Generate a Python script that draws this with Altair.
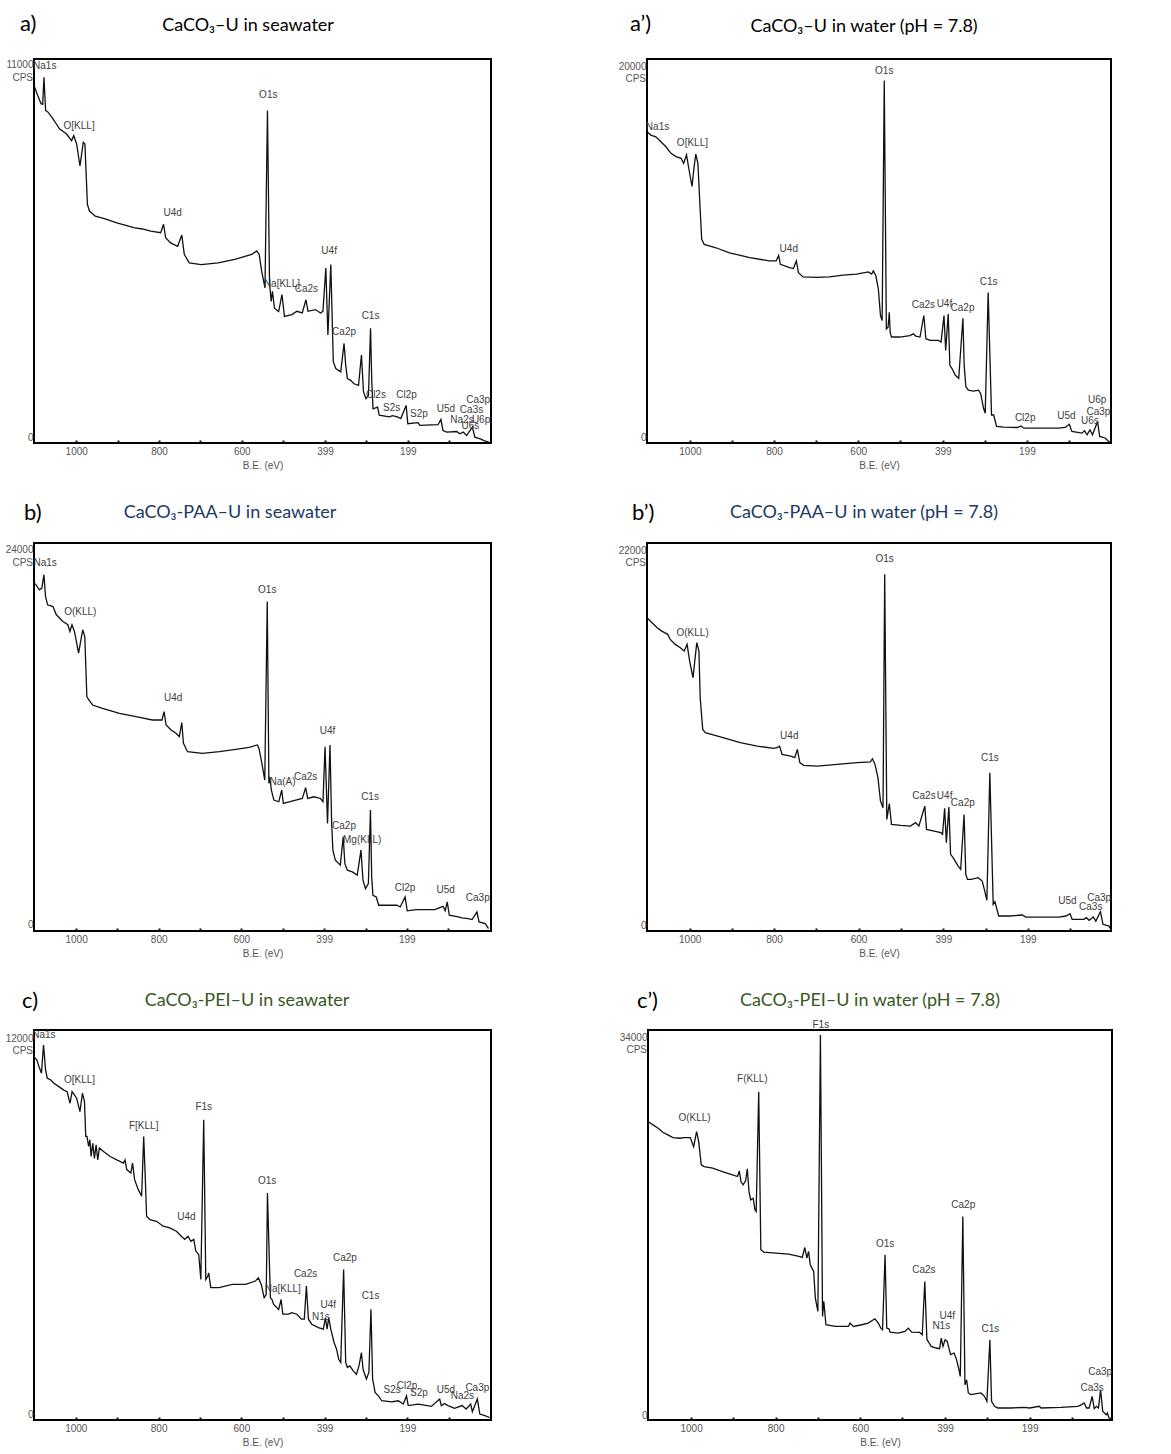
import altair as alt
import pandas as pd

# ---------------- data (binding energy eV, counts per second) ----------------
TICK_VALUES = [1000, 900, 800, 700, 600, 500, 399, 299, 199, 99]
TICK_LABELS = [1000, 800, 600, 399, 199]

spectrum_a = [(1102,10390),(1093,10090),(1085,9850),(1081,9830),(1078,10630),(1074,9650),(1068,9600),(1056,9400),(1048,9250),(1040,9100),(1024,8960),(1011,8760),(1006,8910),(999,8660),(991,8010),(983,8710),(979,8660),(973,6880),(968,6680),(954,6530),(930,6450),(902,6330),(880,6260),(861,6190),(840,6150),(820,6090),(796,6040),(789,6290),(784,5890),(772,5740),(755,5640),(745,5970),(739,5400),(727,5150),(698,5100),(657,5150),(617,5250),(576,5400),(564,5500),(558,5400),(552,4900),(544,4410),(538,9650),(533,4550),(529,4010),(526,4310),(521,3810),(511,3710),(503,4210),(497,3570),(479,3620),(467,3720),(454,3670),(445,4060),(440,3720),(422,3770),(410,3670),(404,3720),(397,5000),(392,3020),(385,5100),(381,3200),(379,2230),(373,2030),(361,1930),(353,2770),(349,2130),(345,1730),(337,1680),(329,1580),(318,1530),(311,2430),(306,1340),(300,1140),(294,1240),(289,3220),(286,1640),(283,840),(272,890),(268,650),(244,600),(236,640),(224,600),(216,550),(203,940),(199,400),(174,430),(170,350),(126,370),(119,525),(114,200),(105,150),(81,170),(73,100),(65,150),(57,50),(43,300),(37,0),(24,-50),(15,-100),(2,-150)]
labels_a = [("Na1s",1076,10960),("O[KLL]",993,9190),("U4d",767,6610),("O1s",536,10120),("U4f",389,5490),("Na[KLL]",503,4520),("Ca2s",444,4380),("C1s",289,3580),("Ca2p",353,3120),("Cl2s",276,1240),("Cl2p",202,1240),("S2s",238,860),("S2p",172,680),("U5d",107,820),("Ca3p",29,1110),("Ca3s",45,790),("Na2s",68,500),("U6p",22,500),("U6s",48,320)]

spectrum_a2 = [(1102,16470),(1093,16290),(1081,16200),(1069,15930),(1057,15660),(1045,15310),(1033,15130),(1021,15040),(1015,14770),(1008,15220),(1002,14410),(995,13520),(990,14590),(986,15270),(981,14770),(976,12450),(972,10670),(966,10400),(938,10220),(906,9950),(858,9690),(811,9510),(795,9510),(789,9810),(785,9330),(763,9150),(754,9100),(747,9510),(742,8880),(731,8650),(699,8620),(668,8650),(636,8740),(604,8800),(576,8920),(568,8800),(564,8970),(558,8710),(552,7990),(547,6570),(543,6300),(538,19230),(533,5850),(529,5940),(526,6740),(524,5670),(521,5410),(501,5410),(477,5490),(469,5580),(463,5460),(453,5410),(444,6570),(439,5320),(429,5230),(409,5230),(403,5140),(396,6570),(392,4690),(386,6650),(382,3890),(377,3710),(369,3350),(361,3180),(351,6420),(348,3890),(344,2730),(338,2550),(326,2500),(314,2550),(309,2370),(302,1570),(298,1300),(291,7810),(283,1210),(278,1210),(271,590),(254,550),(222,535),(213,620),(206,500),(198,500),(124,500),(108,540),(98,710),(92,320),(68,230),(62,360),(56,140),(49,410),(43,140),(31,860),(26,55),(13,-30),(5,-210),(-1,-300)]
labels_a2 = [("Na1s",1077,16730),("O[KLL]",994,15840),("U4d",765,10130),("O1s",538,19730),("C1s",290,8350),("Ca2s",445,7140),("U4f",395,7190),("Ca2p",352,6960),("Cl2p",203,1030),("U5d",105,1180),("U6s",49,890),("Ca3p",29,1390),("U6p",32,2020)]

spectrum_b = [(1102,21860),(1097,21750),(1089,21430),(1083,21540),(1078,22400),(1074,21000),(1069,20470),(1056,20360),(1048,19830),(1040,19620),(1032,19400),(1020,19190),(1015,18760),(1010,19190),(1004,18760),(994,17370),(984,18870),(979,18440),(974,14590),(969,14370),(960,14050),(936,13840),(895,13520),(855,13300),(815,13090),(792,13090),(787,13630),(782,12770),(770,12450),(758,12240),(750,12020),(744,12920),(740,11590),(730,11060),(694,10950),(653,11060),(613,11210),(581,11340),(561,11490),(557,11270),(550,10310),(543,9240),(537,20680),(533,9030),(531,9450),(527,8600),(521,7960),(509,7850),(502,8600),(498,7740),(484,7850),(468,7960),(452,8060),(444,8750),(439,8060),(424,8170),(408,8060),(402,7850),(397,11380),(391,6460),(385,11490),(381,6460),(378,4750),(372,4110),(360,3790),(353,5600),(349,3880),(343,3470),(331,3360),(319,3150),(310,4750),(305,2810),(299,2290),(292,2610),(287,7320),(284,3040),(281,1860),(273,1750),(267,1220),(243,1220),(223,1220),(215,1110),(203,1750),(198,860),(175,940),(131,940),(111,1150),(106,860),(101,1430),(96,580),(74,470),(66,410),(50,360),(41,300),(29,790),(24,150),(9,40),(1,-280)]
labels_b = [("Na1s",1075,23140),("O(KLL)",990,20040),("U4d",765,14480),("O1s",537,21430),("U4f",391,12410),("Na(A)",500,9130),("Ca2s",444,9410),("C1s",288,8150),("Ca2p",351,6310),("Mg(KLL)",307,5390),("Cl2p",203,2330),("U5d",105,2180),("Ca3p",27,1710)]

spectrum_b2 = [(1101,18050),(1089,17760),(1077,17470),(1066,17270),(1052,17080),(1046,16780),(1034,16490),(1022,16290),(1013,16100),(1006,16490),(1000,15510),(992,14530),(987,15710),(983,16590),(978,16100),(975,13360),(969,11500),(963,11310),(919,11010),(880,10720),(840,10520),(801,10390),(791,10440),(787,10520),(781,10030),(761,9930),(751,9840),(745,10330),(739,9550),(730,9390),(698,9350),(651,9450),(603,9550),(572,9600),(567,9780),(561,9450),(554,8670),(548,7300),(542,6900),(538,20600),(533,6220),(527,7140),(522,5930),(500,5870),(477,5830),(465,6030),(457,5830),(443,7000),(439,5630),(421,5530),(405,5440),(401,5340),(396,6870),(392,4850),(386,6940),(382,4170),(376,3970),(364,3480),(358,3290),(350,6510),(346,3010),(342,2700),(333,2700),(317,2800),(307,2600),(301,2010),(296,1470),(289,8960),(281,1230),(277,1390),(268,550),(243,550),(212,610),(204,490),(125,490),(109,550),(99,680),(94,350),(66,350),(60,450),(54,290),(44,490),(38,250),(27,800),(21,60),(7,-40),(2,-230)]
labels_b2 = [("O(KLL)",993,17170),("U4d",764,11110),("O1s",538,21480),("C1s",289,9840),("Ca2s",445,7590),("U4f",396,7590),("Ca2p",353,7200),("U5d",105,1430),("Ca3p",30,1580),("Ca3s",50,1080)]

spectrum_c = [(1101,11420),(1094,11310),(1089,11100),(1083,10890),(1078,11790),(1073,10990),(1069,10730),(1061,10680),(1053,10570),(1041,10460),(1029,10350),(1021,10300),(1014,9930),(1009,10300),(1003,10190),(998,10090),(990,9660),(984,10250),(979,9980),(976,8870),(973,8870),(969,8550),(966,8760),(963,8230),(959,8650),(955,8170),(951,8600),(947,8120),(943,8500),(933,8390),(917,8230),(901,8120),(885,8020),(881,8120),(877,7810),(867,7700),(863,8020),(858,7490),(849,7170),(841,6960),(836,8870),(832,7490),(829,6320),(821,6210),(805,6160),(789,6000),(773,5950),(757,5840),(745,5680),(737,5580),(729,5680),(722,5520),(715,5580),(710,5200),(703,5100),(698,4300),(691,9400),(686,4300),(681,4410),(679,4510),(674,4040),(654,4040),(622,4140),(590,4140),(566,4250),(559,4350),(552,4140),(545,3720),(540,3820),(537,7060),(530,3720),(526,3660),(522,3500),(510,3340),(504,3660),(500,3190),(486,3190),(478,3240),(466,3190),(455,3030),(448,3030),(443,4090),(438,3030),(430,2870),(414,2760),(402,2710),(397,3080),(393,2710),(389,3080),(384,2710),(376,2280),(370,2070),(365,1750),(360,1650),(353,4620),(348,1650),(344,1490),(338,1540),(330,1380),(322,1270),(316,1540),(310,1960),(306,1430),(298,1120),(292,1330),(287,3350),(283,1120),(277,690),(269,580),(261,425),(237,390),(221,425),(209,320),(201,580),(197,270),(173,320),(141,245),(121,480),(117,270),(109,340),(101,270),(85,180),(67,270),(57,160),(46,320),(42,75),(30,480),(24,0),(12,-50),(0,-110)]
labels_c = [("Na1s",1077,12110),("O[KLL]",991,10670),("F[KLL]",836,9190),("F1s",691,9820),("U4d",733,6300),("O1s",538,7430),("Ca2s",445,4460),("Na[KLL]",500,3980),("Ca2p",350,4990),("U4f",390,3470),("N1s",408,3110),("C1s",288,3770),("S2s",236,780),("Cl2p",200,900),("S2p",171,660),("U5d",106,780),("Na2s",66,580),("Ca3p",30,820)]

spectrum_c2 = [(1102,26430),(1090,26130),(1078,25830),(1067,25470),(1055,25230),(1043,24990),(1027,24930),(1016,24990),(1008,24990),(1002,24990),(994,24180),(987,25530),(982,24630),(976,22540),(969,22390),(949,22240),(926,21940),(902,21640),(890,21490),(886,22000),(882,21040),(877,20740),(871,21100),(867,22180),(863,20140),(859,19390),(853,19540),(849,18500),(846,18350),(840,29120),(835,14910),(828,14700),(800,14610),(769,14520),(745,14310),(737,14220),(731,15110),(726,14160),(722,14760),(718,13560),(714,13260),(710,12960),(706,10570),(700,9370),(694,34210),(689,8920),(686,10270),(681,8170),(659,8020),(628,8020),(624,8320),(616,8020),(596,8170),(581,8320),(565,8710),(557,8320),(551,7870),(547,7720),(541,14460),(537,7870),(532,7810),(529,7510),(510,7420),(494,7570),(486,7870),(478,7510),(459,7480),(453,7270),(447,12060),(442,6850),(437,6550),(432,6230),(420,6080),(412,6020),(408,6970),(404,6230),(399,6820),(394,6670),(386,5480),(378,5630),(373,5180),(367,4280),(363,3530),(357,17900),(352,2780),(348,3230),(344,2040),(338,1890),(314,2040),(306,1740),(300,1290),(293,6820),(289,1290),(282,840),(274,690),(243,690),(211,750),(199,690),(176,840),(172,690),(125,750),(85,840),(76,990),(70,1140),(64,690),(58,690),(51,1740),(46,630),(41,840),(36,690),(31,2330),(26,390),(18,90),(15,240),(11,-210),(4,-270)]
labels_c2 = [("F1s",693,35110),("F(KLL)",855,30230),("O(KLL)",992,26790),("O1s",541,15440),("Ca2s",449,13050),("Ca2p",356,18950),("U4f",394,8980),("N1s",408,8080),("C1s",292,7810),("Ca3p",32,3890),("Ca3s",51,2480)]

titles = ["CaCO₃–U in seawater", "CaCO₃–U in water (pH = 7.8)",
          "CaCO₃-PAA–U in seawater", "CaCO₃-PAA–U in water (pH = 7.8)",
          "CaCO₃-PEI–U in seawater", "CaCO₃-PEI–U in water (pH = 7.8)"]
tags = ["a)", "a’)", "b)", "b’)", "c)", "c’)"]
y_max = [11000, 20000, 24000, 22000, 12000, 34000]

# ---------------- styling ----------------
TITLE_FONT = "Lato"
LABEL_FONT = "Liberation Sans"
GRAY = "#555555"
COLORS = ["#000000", "#000000", "#203864", "#203864", "#385723", "#385723"]

label_test = " || ".join(f"datum.value == {v}" for v in TICK_LABELS)


def panel(points, labels, xdom, ydom, ymax, w, h, tag, title, color,
          tag_x, tag_y, title_x, title_y):
    df = pd.DataFrame(points, columns=["be", "cps"])
    ldf = pd.DataFrame(labels, columns=["name", "be", "cps"])
    xs = alt.Scale(domain=xdom, reverse=True, nice=False, zero=False)
    ys = alt.Scale(domain=ydom, nice=False, zero=False)
    xaxis = alt.Axis(values=TICK_VALUES, format="d",
                     labelExpr=f"({label_test}) ? datum.label : ''",
                     title="B.E. (eV)", domain=False, grid=False, offset=-3,
                     tickSize=3, tickWidth=2, tickColor="#111",
                     labelFont=LABEL_FONT, labelFontSize=10, labelColor=GRAY,
                     labelPadding=3, titleFont=LABEL_FONT, titleFontSize=10,
                     titleFontWeight="normal", titleColor=GRAY, titlePadding=4)
    yaxis = alt.Axis(values=[0, ymax], format="d", title=None, domain=False,
                     grid=False, ticks=False, labelFont=LABEL_FONT,
                     labelFontSize=10, labelColor=GRAY, labelPadding=1)
    X = alt.X("be:Q", scale=xs, axis=xaxis)
    Y = alt.Y("cps:Q", scale=ys, axis=yaxis)
    line = alt.Chart(df).mark_line(color="#111", strokeWidth=1.3).encode(x=X, y=Y)
    peaks = alt.Chart(ldf).mark_text(font=LABEL_FONT, fontSize=10,
                                     color="#3d3d3d", baseline="middle").encode(
        x=X, y=Y, text="name:N")
    cps = alt.Chart(pd.DataFrame({"name": ["CPS"], "cps": [ymax]})).mark_text(
        font=LABEL_FONT, fontSize=10, color=GRAY, align="right",
        baseline="middle", dy=13).encode(
        x=alt.value(-1), y=Y, text="name:N")
    ttl = alt.Chart(pd.DataFrame({"name": [title]})).mark_text(
        font=TITLE_FONT, fontSize=18, color=color, align="center",
        baseline="middle").encode(
        x=alt.value(title_x), y=alt.value(title_y), text="name:N")
    tg = alt.Chart(pd.DataFrame({"name": [tag]})).mark_text(
        font=TITLE_FONT, fontSize=22, color="#000", align="left",
        baseline="middle").encode(
        x=alt.value(tag_x), y=alt.value(tag_y), text="name:N")
    return alt.layer(line, peaks, cps, ttl, tg).properties(width=w, height=h)


pa = panel(spectrum_a, labels_a, [-2, 1102], [-170, 11170], y_max[0], 457, 384,
           tags[0], titles[0], COLORS[0], -14, -35, 214, -33)
pa2 = panel(spectrum_a2, labels_a2, [-1, 1102], [-300, 20390], y_max[1], 464, 384,
            tags[1], titles[1], COLORS[1], -17, -35, 217, -32)
pb = panel(spectrum_b, labels_b, [-5, 1102], [-430, 24430], y_max[2], 457, 388,
           tags[2], titles[2], COLORS[2], -10, -30, 196, -30)
pb2 = panel(spectrum_b2, labels_b2, [2, 1101], [-330, 22440], y_max[3], 464, 388,
            tags[3], titles[3], COLORS[3], -15, -30, 217, -30)
pc = panel(spectrum_c, labels_c, [-3, 1101], [-190, 12270], y_max[4], 457, 390,
           tags[4], titles[4], COLORS[4], -12, -29, 213, -29)
pc2 = panel(spectrum_c2, labels_c2, [4, 1102], [-390, 34660], y_max[5], 464, 390,
            tags[5], titles[5], COLORS[5], -11, -29, 222, -29)

chart = alt.vconcat(
    alt.hconcat(pa, pa2, spacing=124),
    alt.hconcat(pb, pb2, spacing=124),
    alt.hconcat(pc, pc2, spacing=124),
    spacing=30,
).properties(
    padding={"left": 4, "top": 12, "right": 5, "bottom": 2},
    background="white",
).configure_view(
    stroke="#000", strokeWidth=2
)

chart.save("out.html", embed_options={"renderer": "svg", "actions": False})
